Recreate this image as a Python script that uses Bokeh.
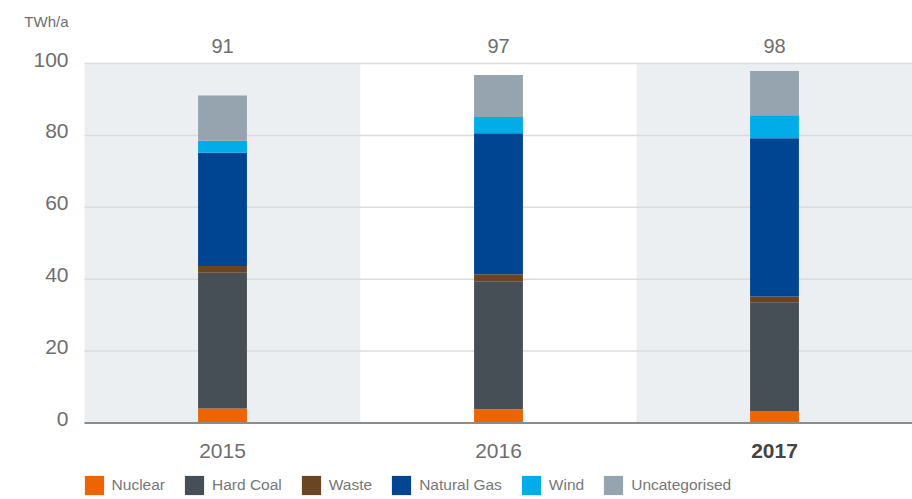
from bokeh.plotting import figure
from bokeh.models import ColumnDataSource, Range1d
from bokeh.embed import file_html
from bokeh.resources import INLINE

# ---- data ----
years = ["2015", "2016", "2017"]
nuclear = [4.0, 3.8, 3.2]
hard_coal = [37.8, 35.6, 30.4]
waste = [1.9, 2.0, 1.6]
natural_gas = [31.5, 39.2, 44.0]
wind = [3.3, 4.5, 6.4]
uncategorised = [12.6, 11.7, 12.3]
series_names = ["Nuclear", "Hard Coal", "Waste", "Natural Gas", "Wind", "Uncategorised"]
y_ticks = [0, 20, 40, 60, 80, 100]
unit_label = "TWh/a"
highlight_year = "2017"

# ---- styles / layout ----
FONT = "Liberation Sans"
TEXT = "#6e6e6e"
colors = ["#EE6500", "#474F56", "#6B4522", "#004592", "#00ADE9", "#95A4AE"]
band_colors = ["#ECEFF2", "#FFFFFF"]
W, H = 912, 499
LEFT_PX = 84          # space for the value axis labels
TOP_PX = 63           # space above the 100 line
BOTTOM_PX = 76.5      # space below the 0 line
Y_MAX = max(y_ticks)
px_per_unit = (H - TOP_PX - BOTTOM_PX) / Y_MAX
cat_px = (W - LEFT_PX) / len(years)

keys = ["nuclear", "hard_coal", "waste", "natural_gas", "wind", "uncategorised"]
values = [nuclear, hard_coal, waste, natural_gas, wind, uncategorised]
xpos = list(range(len(years)))
data = {"x": xpos, "year": years}
for k, v in zip(keys, values):
    data[k] = v
src = ColumnDataSource(data)
totals = [str(round(sum(col))) for col in zip(*values)]

x0 = -0.5
x_range = Range1d(x0 - LEFT_PX / cat_px, len(years) - 0.5)
y_range = Range1d(-BOTTOM_PX / px_per_unit, Y_MAX + TOP_PX / px_per_unit)

p = figure(x_range=x_range, y_range=y_range, width=W, height=H,
           x_axis_type=None, y_axis_type=None,
           output_backend="svg", toolbar_location=None,
           min_border=0, min_border_left=0, min_border_right=0,
           min_border_top=0, min_border_bottom=0)
p.outline_line_color = None

# background bands
band_src = ColumnDataSource(dict(x=xpos,
                                 color=[band_colors[i % 2] for i in range(len(years))]))
p.vbar(x="x", top=Y_MAX, bottom=0, width=1.0, fill_color="color",
       line_color=None, source=band_src)

# grid lines
grid_src = ColumnDataSource(dict(y=y_ticks, label=[str(t) for t in y_ticks]))
p.segment(x0=x0, x1=x_range.end, y0="y", y1="y", source=grid_src,
          line_color="#dcdcdc", line_width=1.5)

# stacked bars
p.vbar_stack(keys, x="x", width=0.177, color=colors, line_color=None,
             source=src, legend_label=series_names)

# base axis line
p.segment(x0=x0, x1=x_range.end, y0=0, y1=0, line_color="#8c8c8c", line_width=2)

# value-axis labels
p.text(x=x0, y="y", text="label", source=grid_src, x_offset=-16, y_offset=-4,
       text_align="right", text_baseline="middle",
       text_font={"value": FONT}, text_font_size="21px", text_color=TEXT)

# unit label
p.text(x=[x0], y=[Y_MAX], text=[unit_label], x_offset=-16, y_offset=-42,
       text_align="right", text_baseline="middle",
       text_font={"value": FONT}, text_font_size="15px", text_color=TEXT)

# totals above the plot
tot_src = ColumnDataSource(dict(x=xpos, total=totals))
p.text(x="x", y=Y_MAX, text="total", source=tot_src, y_offset=-18,
       text_align="center", text_baseline="middle",
       text_font={"value": FONT}, text_font_size="20px", text_color=TEXT)

# category labels
norm_src = ColumnDataSource(dict(x=[i for i, y in zip(xpos, years) if y != highlight_year],
                                 year=[y for y in years if y != highlight_year]))
hl_src = ColumnDataSource(dict(x=[i for i, y in zip(xpos, years) if y == highlight_year],
                               year=[y for y in years if y == highlight_year]))
p.text(x="x", y=0, text="year", source=norm_src, y_offset=28,
       text_align="center", text_baseline="middle",
       text_font={"value": FONT}, text_font_size="21px", text_color=TEXT)
p.text(x="x", y=0, text="year", source=hl_src, y_offset=28,
       text_align="center", text_baseline="middle",
       text_font={"value": FONT}, text_font_size="21px", text_color="#444444",
       text_font_style="bold")

# legend (area legend glyphs are drawn inset by 10% on each side)
GLYPH = 24
inset = GLYPH * 0.1
lg = p.legend[0]
lg.orientation = "horizontal"
lg.location = (LEFT_PX - inset, 4 - inset)
lg.glyph_width = GLYPH
lg.glyph_height = GLYPH
lg.label_height = GLYPH
lg.label_standoff = round(8 - inset)
lg.spacing = 17
lg.padding = 0
lg.margin = 0
lg.border_line_color = None
lg.background_fill_alpha = 0
lg.label_text_font = FONT
lg.label_text_font_size = "15.5px"
lg.label_text_color = "#777777"

open("out.html", "w").write(file_html(p, INLINE))
